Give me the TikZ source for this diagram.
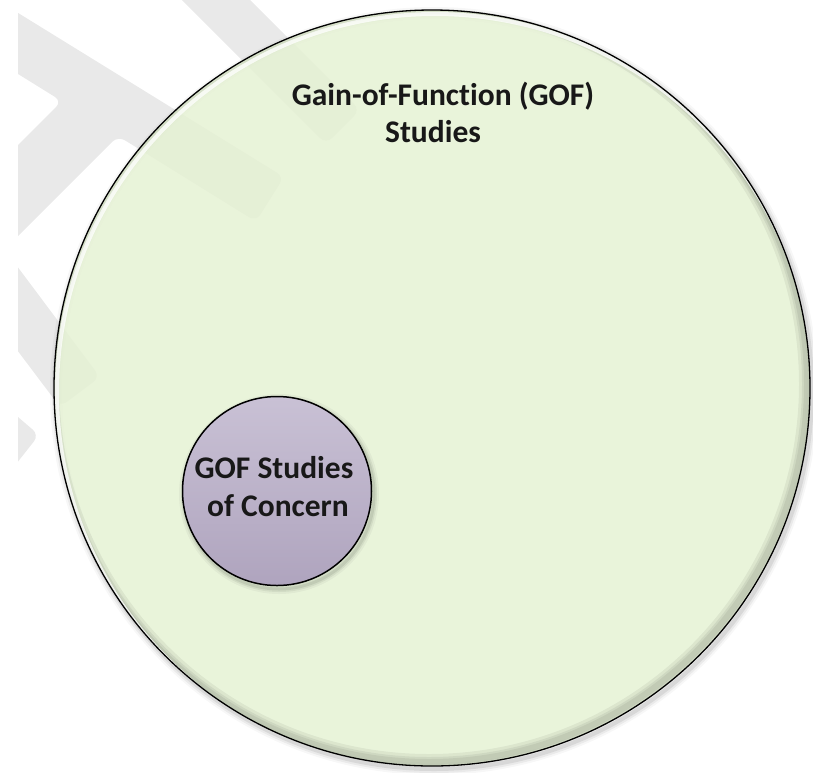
\documentclass[tikz,border=0pt]{standalone}
\usepackage{fontspec}
\setmainfont{Carlito}[Ligatures={NoCommon}, RawFeature={-liga;-clig}]
\usetikzlibrary{calc}
\definecolor{gofgreen}{RGB}{229,242,211}
\definecolor{wm}{RGB}{233,233,233}
\definecolor{lavtop}{RGB}{201,193,213}
\definecolor{lavbot}{RGB}{175,164,190}
\definecolor{txt}{RGB}{24,24,24}
\tikzset{
  wmark/.style={fill=wm, rounded corners=8pt},
  bigcirc/.style={circle, minimum size=756pt, inner sep=0pt, fill=gofgreen, fill opacity=0.83},
  smallcirc/.style={circle, minimum size=189pt, inner sep=0pt, top color=lavtop, bottom color=lavbot, draw=black, line width=1.5pt},
  lbl/.style={font=\fontsize{31.5}{37}\selectfont\bfseries, text=txt, inner sep=0pt, anchor=base},
  rim/.style={draw=black, line width=1.3pt},
}
\begin{document}
\begin{tikzpicture}[x=1pt,y=-1pt]
\useasboundingbox (0,0) rectangle (813,772);
% faint watermark chevrons
\begin{scope}
  \clip (18,0) rectangle (813,772);
  \fill[wmark] (0,1.8) -- (284,177) -- (256,221.6) -- (118,136) -- (-10,264) -- (-10,173) -- (61.9,101.2) -- (0,62.8) -- cycle;
  \fill[wmark] (172,-10) -- (240,-10) -- (360,110) -- (326,144) -- cycle;
  \fill[wmark] (-10,230) -- (100,377) -- (60,407) -- (-10,314) -- cycle;
  \fill[wmark] (-10,393) -- (39,435) -- (-10,497) -- cycle;
\end{scope}
% drop shadow of big circle
\foreach \w/\o in {12/0.03, 8/0.05, 4/0.08}
  \draw[black, opacity=\o, line width=\w pt] (434,391) circle[radius=378pt];
% big circle
\node[bigcirc] (gof) at (432,388) {};
\begin{scope}
  \clip (gof.center) circle[radius=378pt];
  \foreach \w in {16,10,6}
    \draw[black, opacity=0.06, line width=\w pt] ($(gof.center)+(-3,-4)$) circle[radius=378pt];
  \draw[white, opacity=0.75, line width=4pt] ($(gof.center)+(3,4)$) circle[radius=378pt];
\end{scope}
\draw[rim] (gof.center) circle[radius=378pt];
\node[lbl] (gofA) at (443,105) {Gain-of-Function (GOF)};
\node[lbl] (gofB) at (433,142) {Studies};
% small circle
\foreach \w/\o in {10/0.04, 6/0.06, 3/0.08}
  \draw[black, opacity=\o, line width=\w pt] (279,494) circle[radius=95pt];
\node[smallcirc] (concern) at (277,491) {};
\node[lbl] (concernA) at (274,478) {GOF Studies};
\node[lbl] (concernB) at (278,516) {of Concern};
\end{tikzpicture}
\end{document}
